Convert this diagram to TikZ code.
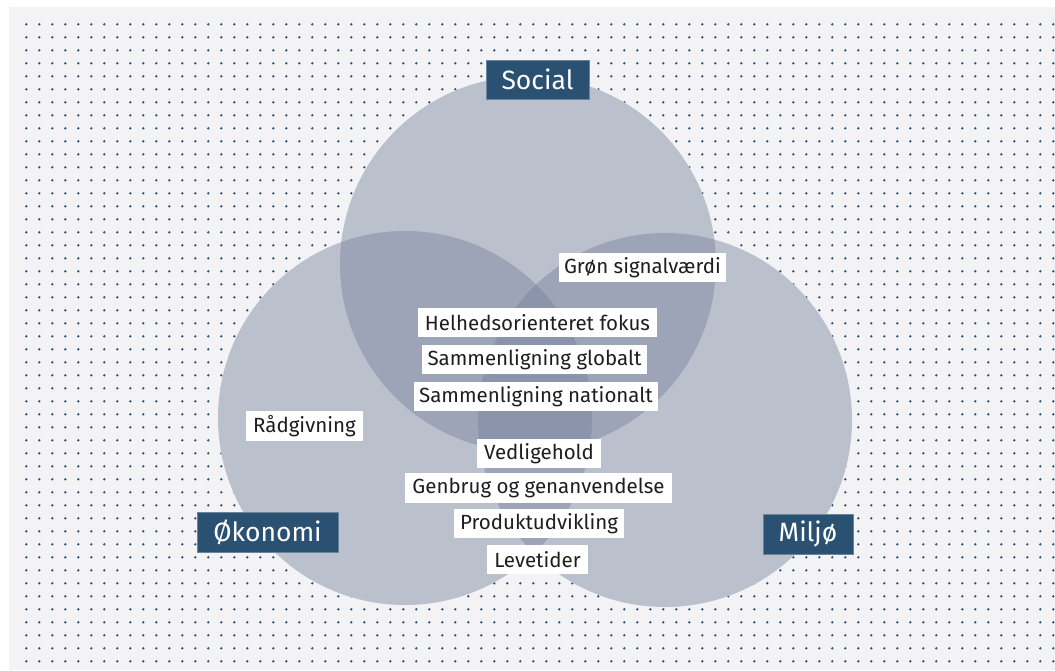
\documentclass[tikz,border=0pt]{standalone}
\usepackage{fontspec}
\setmainfont{Fira Sans}
\definecolor{bgc}{HTML}{F3F3F5}
\definecolor{dotc}{HTML}{2E5379}
\definecolor{circc}{RGB}{121,130,158}
\definecolor{headc}{HTML}{2A5072}
\definecolor{txtc}{HTML}{1E1E1E}
\tikzset{
  venn/.style={fill=circc,fill opacity=0.45},
  headbox/.style={fill=headc,text=white,inner sep=0pt,font=\fontsize{26.5}{28}\selectfont,draw=headc!70!white,line width=0.6pt},
  itembox/.style={fill=white,text=txtc,inner sep=0pt,minimum height=29pt,font=\fontsize{20.5}{22}\selectfont}
}
\begin{document}
\begin{tikzpicture}[x=1pt,y=-1pt]
\useasboundingbox (0,0) rectangle (1055,670);
\fill[bgc] (9,7) rectangle (1055,670);
\foreach \j in {0,...,49} {
  \fill[dotc] \foreach \i in {0,...,79} {(26.3+13*\i,24.3+13*\j) circle (1.35)};
}
% hide dots under circles
\fill[bgc] (528,264) circle (188);
\fill[bgc] (405,418) circle (187);
\fill[bgc] (665,420) circle (187);
\fill[venn] (528,264) circle (188);
\fill[venn] (405,418) circle (187);
\fill[venn] (665,420) circle (187);
% headings
\node[headbox,minimum width=103pt,minimum height=39pt] (social) at (537.5,79.5) {Social};
\node[headbox,minimum width=141pt,minimum height=40pt] (okonomi) at (267.5,532) {Økonomi};
\node[headbox,minimum width=90pt,minimum height=40pt] (miljo) at (808,534) {Miljø};
% items
\node[itembox,minimum width=167pt] (gron) at (642.5,267.5) {Grøn signalværdi};
\node[itembox,minimum width=239pt] (helhed) at (537.5,322.5) {Helhedsorienteret fokus};
\node[itembox,minimum width=225pt] (globalt) at (534.5,359.5) {Sammenligning globalt};
\node[itembox,minimum width=244pt] (nationalt) at (536,396.5) {Sammenligning nationalt};
\node[itembox,minimum width=124pt] (vedl) at (539,453.5) {Vedligehold};
\node[itembox,minimum width=267pt,minimum height=30pt] (genbrug) at (538.5,488) {Genbrug og genanvendelse};
\node[itembox,minimum width=170pt] (produkt) at (539,523.5) {Produktudvikling};
\node[itembox,minimum width=101pt] (levetid) at (537.5,559.5) {Levetider};
\node[itembox,minimum width=117pt,minimum height=30pt] (raad) at (304.5,426) {Rådgivning};
\end{tikzpicture}
\end{document}
